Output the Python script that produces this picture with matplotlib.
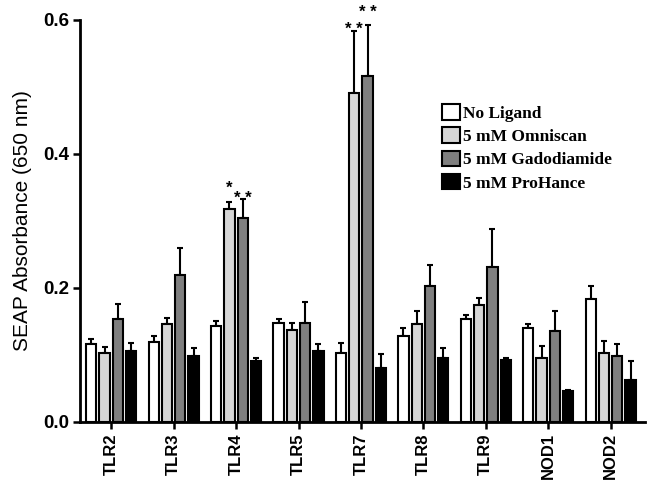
import numpy as np
import matplotlib
matplotlib.use('Agg')
import matplotlib.pyplot as plt

plt.rcParams['font.family'] = ['Liberation Sans', 'DejaVu Sans']

# valores
receptors = ['TLR2', 'TLR3', 'TLR4', 'TLR5', 'TLR7', 'TLR8', 'TLR9', 'NOD1', 'NOD2']
series = ['No Ligand', '5 mM Omniscan', '5 mM Gadodiamide', '5 mM ProHance']
colors = ['white', '#d6d6d6', '#7f7f7f', 'black']

no_ligand = [0.116, 0.119, 0.144, 0.148, 0.103, 0.129, 0.154, 0.140, 0.183]
omniscan = [0.103, 0.146, 0.318, 0.137, 0.491, 0.146, 0.175, 0.095, 0.103]
gadodiamide = [0.153, 0.219, 0.304, 0.148, 0.517, 0.203, 0.232, 0.136, 0.099]
prohance = [0.106, 0.099, 0.091, 0.106, 0.081, 0.096, 0.093, 0.046, 0.062]

no_ligand_err = [0.008, 0.009, 0.007, 0.005, 0.015, 0.012, 0.006, 0.007, 0.020]
omniscan_err = [0.009, 0.009, 0.010, 0.011, 0.093, 0.019, 0.010, 0.018, 0.018]
gadodiamide_err = [0.023, 0.041, 0.029, 0.031, 0.076, 0.031, 0.056, 0.029, 0.018]
prohance_err = [0.012, 0.012, 0.005, 0.011, 0.020, 0.014, 0.002, 0.002, 0.029]

# asteriscos: (grupo, serie, texto, altura)
stars = [(2, 1, '*', 0.349), (2, 2, '* *', 0.334),
         (4, 1, '* *', 0.586), (4, 2, '* *', 0.611)]

values = [no_ligand, omniscan, gadodiamide, prohance]
errors = [no_ligand_err, omniscan_err, gadodiamide_err, prohance_err]

fig = plt.figure(figsize=(6.51, 4.82), dpi=100)
ax = fig.add_axes([80 / 651, 60 / 482, 565 / 651, 402 / 482])

x = np.arange(len(receptors))
pitch = 0.213
width = 0.165
for i, (vals, errs) in enumerate(zip(values, errors)):
    pos = x + (i - 1.5) * pitch
    ax.bar(pos, vals, width=width, color=colors[i], edgecolor='black',
           linewidth=1.5, label=series[i], zorder=2)
    ax.errorbar(pos, vals, yerr=[np.zeros(len(errs)), errs], fmt='none',
                ecolor='black', elinewidth=1.5, capsize=2.5, capthick=1.5, zorder=1)

for g, s, txt, h in stars:
    xp = x[g] + (s - 1.5) * pitch
    ax.text(xp, h, txt, ha='center', va='center', fontsize=12,
            fontweight='bold', clip_on=False)

ax.set_xlim(-0.5, 8.55)
ax.set_ylim(0, 0.6)
ax.set_yticks([0.0, 0.2, 0.4, 0.6])
ax.set_yticklabels(['0.0', '0.2', '0.4', '0.6'], fontsize=13.5, fontweight='bold')
ax.set_xticks(x)
ax.set_xticklabels(receptors, rotation=90, fontsize=12, fontweight='bold')
ax.set_ylabel('SEAP Absorbance (650 nm)', fontsize=15, labelpad=8)

for side in ['top', 'right']:
    ax.spines[side].set_visible(False)
for side in ['left', 'bottom']:
    ax.spines[side].set_linewidth(2)
ax.tick_params(width=1.8, length=5, direction='out', pad=3)

ax.legend(loc='upper left', bbox_to_anchor=(442 / 651, 1 - 104 / 482),
          bbox_transform=fig.transFigure, frameon=False,
          prop={'family': 'Liberation Serif', 'weight': 'bold', 'size': 12.5},
          handlelength=1.05, handleheight=1.0, handletextpad=0.15,
          labelspacing=0.32, borderpad=0, borderaxespad=0)

fig.savefig('out.png', dpi=100)
plt.close(fig)
